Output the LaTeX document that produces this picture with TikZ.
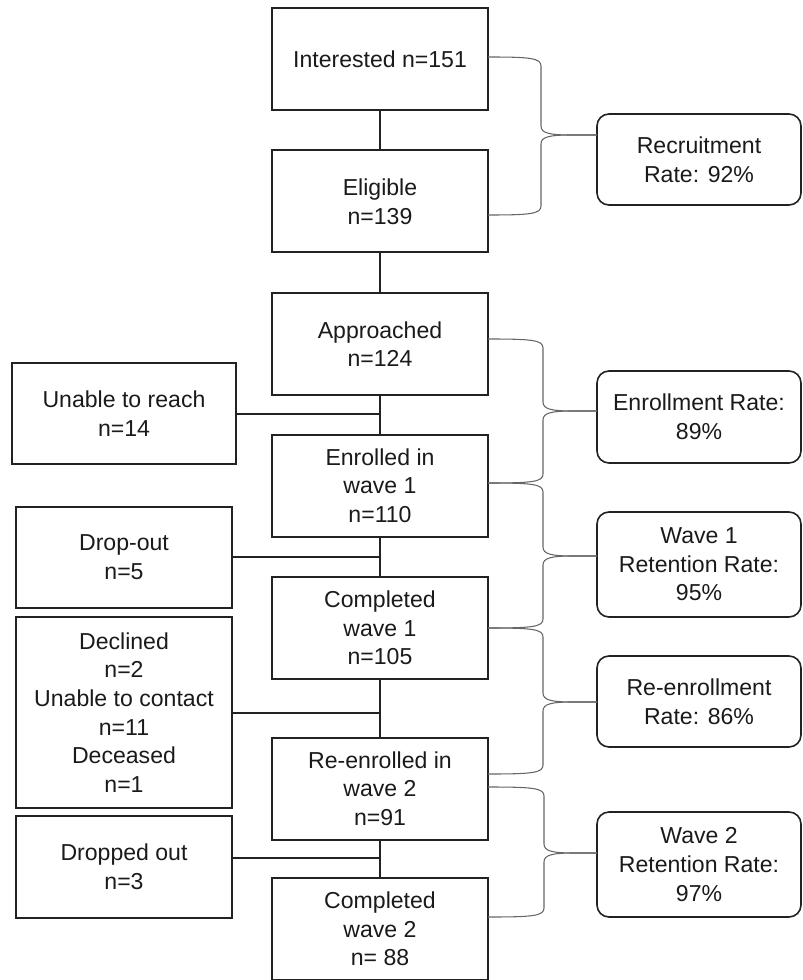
\documentclass[tikz,border=0pt]{standalone}
\usepackage{fontspec}
\setmainfont{Liberation Sans}
\definecolor{linec}{HTML}{222222}
\definecolor{textc}{HTML}{1A1A1A}
\definecolor{bracegray}{HTML}{666666}
\newcommand\ratebrace[7]{%
 \draw[bracec] (#1.east |- 0,#2) .. controls ({#7-11},#2) and (#7,{#2+1}) .. (#7,{#2+9})
   -- (#7,{#6-9}) .. controls (#7,{#6-2}) and ({#7+8},#6) .. ({#7+30},#6) -- (#5.west |- 0,#6);
 \draw[bracec] (#5.west |- 0,#6) -- ({#7+30},#6) .. controls ({#7+8},#6) and (#7,{#6+2}) .. (#7,{#6+9})
   -- (#7,{#4-9}) .. controls (#7,{#4-1}) and ({#7-11},#4) .. (#3.east |- 0,#4);
}
\begin{document}
\begin{tikzpicture}[x=0.75pt,y=-0.75pt,
  box/.style={draw=linec, line width=1.5pt, rectangle, inner sep=0pt, outer sep=0pt,
    align=center, font=\fontsize{17.3}{21.5}\selectfont, text=textc},
  mainbox/.style={box, minimum width=162pt, minimum height=76.5pt},
  sidebox/.style={box, minimum width=162pt},
  ratebox/.style={box, rounded corners=9pt, line width=1.2pt, minimum width=153pt},
  link/.style={draw=linec, line width=1.5pt},
  bracec/.style={draw=bracegray, line width=0.8pt}]
\useasboundingbox (0,0) rectangle (802,980);

% main column
\node[mainbox] (b1) at (380,59) {Interested n=151};
\node[mainbox] (b2) at (380,201.5) {Eligible\\n=139};
\node[mainbox] (b3) at (380,344) {Approached\\n=124};
\node[mainbox] (b4) at (380,485.5) {Enrolled in\\wave 1\\n=110};
\node[mainbox] (b5) at (380,628) {Completed\\wave 1\\n=105};
\node[mainbox] (b6) at (380,788.5) {Re-enrolled in\\wave 2\\n=91};
\node[mainbox] (b7) at (380,929) {Completed\\wave 2\\n= 88};

\foreach \a/\b in {b1/b2,b2/b3,b3/b4,b4/b5,b5/b6,b6/b7}
  \draw[link] (\a.south) -- (\b.north);

% side boxes
\node[sidebox, minimum width=168pt, minimum height=75.75pt] (l1) at (124,413.5) {Unable to reach\\n=14};
\node[sidebox, minimum height=75.75pt] (l2) at (124,557.5) {Drop-out\\n=5};
\node[sidebox, minimum height=143.25pt] (l3) at (124,712.5) {Declined\\n=2\\Unable to contact\\n=11\\Deceased\\n=1};
\node[sidebox, minimum height=76.5pt] (l4) at (124,867) {Dropped out\\n=3};

\coordinate (j1) at (380,414);
\coordinate (j2) at (380,557);
\coordinate (j3) at (380,713);
\coordinate (j4) at (380,858);
\draw[link] (l1.east |- j1) -- (j1);
\draw[link] (l2.east |- j2) -- (j2);
\draw[link] (l3.east |- j3) -- (j3);
\draw[link] (l4.east |- j4) -- (j4);

% rate boxes
\node[ratebox, minimum height=68.25pt] (r1) at (699,159.5) {Recruitment\\Rate: 92\%};
\node[ratebox, minimum height=69pt] (r2) at (699,417) {Enrollment Rate:\\89\%};
\node[ratebox, minimum height=78.75pt] (r3) at (699,564.5) {Wave 1\\Retention Rate:\\95\%};
\node[ratebox, minimum height=68.25pt] (r4) at (699,701.5) {Re-enrollment\\Rate: 86\%};
\node[ratebox, minimum height=78.75pt] (r5) at (699,864.5) {Wave 2\\Retention Rate:\\97\%};

% braces
\ratebrace{b1}{57}{b2}{215}{r1}{135}{541}
\ratebrace{b3}{339}{b4}{483}{r2}{411}{543}
\ratebrace{b4}{483}{b5}{628}{r3}{556}{543}
\ratebrace{b5}{628}{b6}{774}{r4}{702}{543}
\ratebrace{b6}{787}{b7}{917}{r5}{853}{544}
\end{tikzpicture}
\end{document}
